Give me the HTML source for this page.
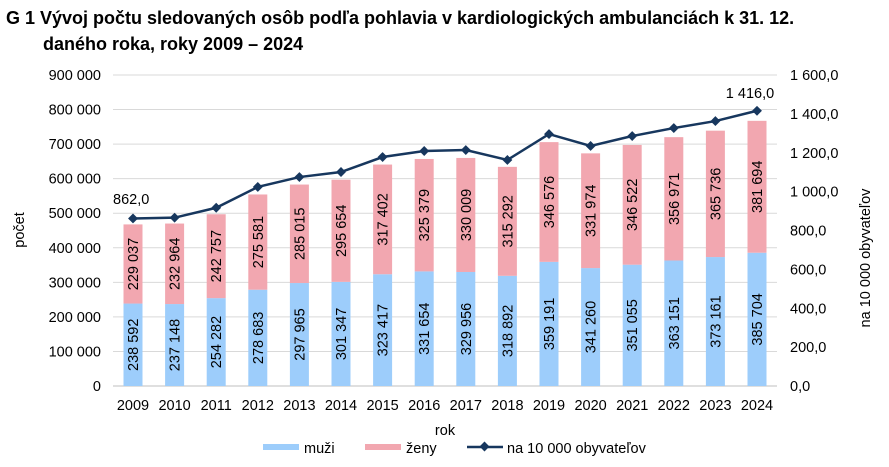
<!DOCTYPE html>
<html><head><meta charset="utf-8"><style>
body{margin:0;background:#fff;width:889px;height:462px;overflow:hidden;font-family:"Liberation Sans",Arial,sans-serif}
</style></head><body>
<svg width="889" height="462" xmlns="http://www.w3.org/2000/svg" font-family="Liberation Sans, Arial, sans-serif">
<text x="6" y="24" font-size="18" font-weight="bold" fill="#000">G 1 Vývoj počtu sledovaných osôb podľa pohlavia v kardiologických ambulanciách k 31. 12.</text>
<text x="43" y="50" font-size="18" font-weight="bold" fill="#000">daného roka, roky 2009 – 2024</text>
<g id="grid" stroke="#d9d9d9" stroke-width="1"></g>
<g id="bars"></g>
<g id="labels" font-size="14.5" fill="#000"></g>
<text x="24" y="230" font-size="14.5" transform="rotate(-90 24 230)" text-anchor="middle">počet</text>
<text x="870" y="258" font-size="14.5" transform="rotate(-90 870 258)" text-anchor="middle">na 10 000 obyvateľov</text>
<text x="445" y="435" font-size="14.5" text-anchor="middle">rok</text>
<rect x="263" y="444" width="36" height="6" fill="#9dcdfb"/>
<text x="304" y="453" font-size="14.5">muži</text>
<rect x="365" y="444" width="36" height="6" fill="#f2a7b0"/>
<text x="406" y="453" font-size="14.5">ženy</text>
<line x1="467" y1="447" x2="503" y2="447" stroke="#17375e" stroke-width="2.5"/>
<rect x="481" y="443" width="7" height="7" fill="#17375e" transform="rotate(45 484.5 446.5)"/>
<text x="507" y="453" font-size="14.5">na 10 000 obyvateľov</text>
</svg>
<script>
const m=[238592,237148,254282,278683,297965,301347,323417,331654,329956,318892,359191,341260,351055,363151,373161,385704];
const z=[229037,232964,242757,275581,285015,295654,317402,325379,330009,315292,346576,331974,346522,356971,365736,381694];
const r=[862,866,917,1024,1075,1101,1178,1209,1214,1163,1296,1235,1286,1327,1363,1416];
const ns="http://www.w3.org/2000/svg";
const svg=document.querySelector('svg');
function el(p,t,a,txt){const e=document.createElementNS(ns,t);for(const k in a)e.setAttribute(k,a[k]);if(txt!=null)e.textContent=txt;p.appendChild(e);return e;}
const g=document.getElementById('grid'),b=document.getElementById('bars'),l=document.getElementById('labels');
const y0=386,sc=311/900000,rs=311/1600;
const fmt=n=>String(n).replace(/\B(?=(\d{3})+(?!\d))/g,' ');
for(let i=0;i<=9;i++){const y=y0-i*100000*sc;
 if(i>0)el(g,'line',{x1:113,x2:777,y1:y,y2:y});
 el(l,'text',{x:101,y:y+5,'text-anchor':'end'},i==0?'0':fmt(i*100000));}
for(let i=0;i<=8;i++){const y=y0-i*200*rs;el(l,'text',{x:790,y:y+5},(i==0?'0':fmt(i*200))+',0');}
el(g,'line',{x1:113,x2:777,y1:y0,y2:y0,stroke:'#bfbfbf'});
const pts=[];
for(let i=0;i<16;i++){const cx=133+i*41.6;
 const hm=m[i]*sc,hz=z[i]*sc;
 el(b,'rect',{x:cx-9.5,y:y0-hm,width:19,height:hm,fill:'#9dcdfb'});
 el(b,'rect',{x:cx-9.5,y:y0-hm-hz,width:19,height:hz,fill:'#f2a7b0'});
 const ym=y0-hm/2,yz=y0-hm-hz/2;
 el(l,'text',{x:cx+5,y:ym,'text-anchor':'middle',transform:`rotate(-90 ${cx+5} ${ym})`},fmt(m[i]));
 el(l,'text',{x:cx+5,y:yz,'text-anchor':'middle',transform:`rotate(-90 ${cx+5} ${yz})`},fmt(z[i]));
 el(l,'text',{x:cx,y:410,'text-anchor':'middle'},2009+i);
 pts.push([cx,y0-r[i]*rs]);}
el(svg,'polyline',{points:pts.map(p=>p.join(',')).join(' '),fill:'none',stroke:'#17375e','stroke-width':2.5});
pts.forEach(p=>el(svg,'rect',{x:p[0]-3.5,y:p[1]-3.5,width:7,height:7,fill:'#17375e',transform:`rotate(45 ${p[0]} ${p[1]})`}));
el(svg,'text',{x:113,y:204,'font-size':14.5},'862,0');
el(svg,'text',{x:750,y:98,'font-size':14.5,'text-anchor':'middle'},'1 416,0');
</script>
</body></html>
